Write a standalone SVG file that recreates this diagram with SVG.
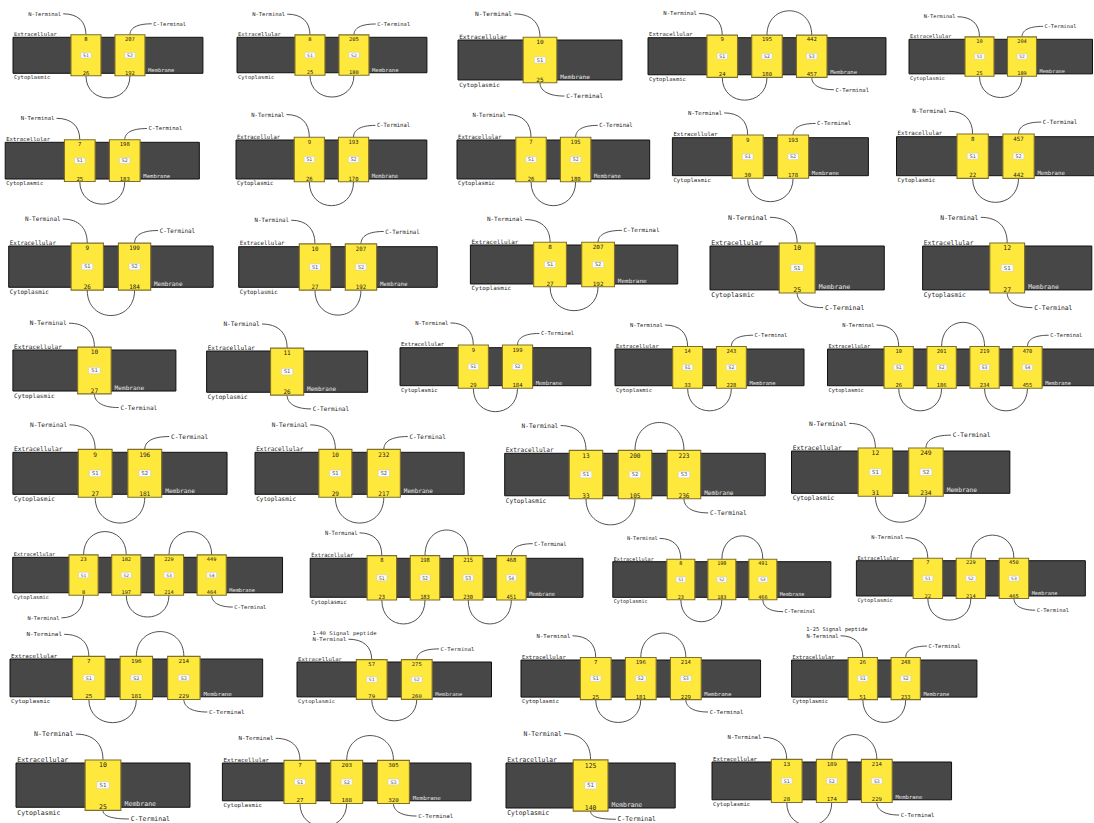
<svg xmlns="http://www.w3.org/2000/svg" width="1094" height="823" viewBox="0 0 1094 823">
<style>
.m{fill:#474747;stroke:#111;stroke-width:1;vector-effect:non-scaling-stroke}
.h{fill:#ffe83c;stroke:#7f6f2c;stroke-width:1.1;vector-effect:non-scaling-stroke}
.sb{fill:#fbfbfb;stroke:#bdbdbd;stroke-width:0.4;vector-effect:non-scaling-stroke}
text{font-family:"DejaVu Sans Mono","Liberation Mono",monospace;font-size:5.3px;fill:#1c1c1c}
.n{text-anchor:middle}
.e{text-anchor:end}
.sl{font-size:4.6px;fill:#555}
.w{fill:#e4e4e4}
.c path{fill:none;stroke:#3c3c3c;stroke-width:0.9;vector-effect:non-scaling-stroke}
</style>
<defs>
<g id="b1"><rect class="m" width="141" height="36"/><rect class="h" x="56" y="-2.5" width="29" height="41"/><rect class="sb" x="65.5" y="15.2" width="10" height="5.6"/><text class="n sl" x="70.5" y="19.6">S1</text><text x="1" y="-1.2">Extracellular</text><text x="1" y="42">Cytoplasmic</text><text class="w" x="88" y="35">Membrane</text></g>
<g id="b2"><rect class="m" width="183.5" height="36"/><rect class="h" x="56" y="-2.5" width="29" height="41"/><rect class="h" x="98.5" y="-2.5" width="29" height="41"/><rect class="sb" x="65.5" y="15.2" width="10" height="5.6"/><rect class="sb" x="108" y="15.2" width="10" height="5.6"/><text class="n sl" x="70.5" y="19.6">S1</text><text class="n sl" x="113" y="19.6">S2</text><text x="1" y="-1.2">Extracellular</text><text x="1" y="42">Cytoplasmic</text><text class="w" x="130.5" y="35">Membrane</text></g>
<g id="b3"><rect class="m" width="226" height="36"/><rect class="h" x="56" y="-2.5" width="29" height="41"/><rect class="h" x="98.5" y="-2.5" width="29" height="41"/><rect class="h" x="141" y="-2.5" width="29" height="41"/><rect class="sb" x="65.5" y="15.2" width="10" height="5.6"/><rect class="sb" x="108" y="15.2" width="10" height="5.6"/><rect class="sb" x="150.5" y="15.2" width="10" height="5.6"/><text class="n sl" x="70.5" y="19.6">S1</text><text class="n sl" x="113" y="19.6">S2</text><text class="n sl" x="155.5" y="19.6">S3</text><text x="1" y="-1.2">Extracellular</text><text x="1" y="42">Cytoplasmic</text><text class="w" x="173" y="35">Membrane</text></g>
<g id="b4"><rect class="m" width="268.5" height="36"/><rect class="h" x="56" y="-2.5" width="29" height="41"/><rect class="h" x="98.5" y="-2.5" width="29" height="41"/><rect class="h" x="141" y="-2.5" width="29" height="41"/><rect class="h" x="183.5" y="-2.5" width="29" height="41"/><rect class="sb" x="65.5" y="15.2" width="10" height="5.6"/><rect class="sb" x="108" y="15.2" width="10" height="5.6"/><rect class="sb" x="150.5" y="15.2" width="10" height="5.6"/><rect class="sb" x="193" y="15.2" width="10" height="5.6"/><text class="n sl" x="70.5" y="19.6">S1</text><text class="n sl" x="113" y="19.6">S2</text><text class="n sl" x="155.5" y="19.6">S3</text><text class="n sl" x="198" y="19.6">S4</text><text x="1" y="-1.2">Extracellular</text><text x="1" y="42">Cytoplasmic</text><text class="w" x="215.5" y="35">Membrane</text></g>
</defs>
<rect width="1094" height="823" fill="#fff"/>
<g id="connectors" class="c">
<g transform="translate(13,37.3) scale(1.035,1)"><path d="M48.5-23.5C62.5-23.5 70.5-16 70.5-2.5"/><path d="M70.5 38.5C70.5 68 113 68 113 38.5"/><path d="M113-2.5C113-9 119-13.5 134-13.5"/></g>
<g transform="translate(237,37.3) scale(1.035,0.985)"><path d="M48.5-23.5C62.5-23.5 70.5-16 70.5-2.5"/><path d="M70.5 38.5C70.5 68 113 68 113 38.5"/><path d="M113-2.5C113-9 119-13.5 134-13.5"/></g>
<g transform="translate(458,40) scale(1.163,1.11)"><path d="M48.5-23.5C62.5-23.5 70.5-16 70.5-2.5"/><path d="M70.5 38.5C70.5 45 76.5 50.5 91.5 50.5"/></g>
<g transform="translate(648,37.7) scale(1.053,1.03)"><path d="M48.5-23.5C62.5-23.5 70.5-16 70.5-2.5"/><path d="M70.5 38.5C70.5 68 113 68 113 38.5"/><path d="M113-2.5C113-34 155.5-34 155.5-2.5"/><path d="M155.5 38.5C155.5 45 161.5 50.5 176.5 50.5"/></g>
<g transform="translate(909,39.3) scale(1,0.96)"><path d="M48.5-23.5C62.5-23.5 70.5-16 70.5-2.5"/><path d="M70.5 38.5C70.5 68 113 68 113 38.5"/><path d="M113-2.5C113-9 119-13.5 134-13.5"/></g>
<g transform="translate(5.2,142.3) scale(1.058,1.02)"><path d="M48.5-23.5C62.5-23.5 70.5-16 70.5-2.5"/><path d="M70.5 38.5C70.5 68 113 68 113 38.5"/><path d="M113-2.5C113-9 119-13.5 134-13.5"/></g>
<g transform="translate(236,140) scale(1.04,1.083)"><path d="M48.5-23.5C62.5-23.5 70.5-16 70.5-2.5"/><path d="M70.5 38.5C70.5 68 113 68 113 38.5"/><path d="M113-2.5C113-9 119-13.5 134-13.5"/></g>
<g transform="translate(457,140) scale(1.05,1.083)"><path d="M48.5-23.5C62.5-23.5 70.5-16 70.5-2.5"/><path d="M70.5 38.5C70.5 68 113 68 113 38.5"/><path d="M113-2.5C113-9 119-13.5 134-13.5"/></g>
<g transform="translate(672.4,137.7) scale(1.068,1.055)"><path d="M48.5-23.5C62.5-23.5 70.5-16 70.5-2.5"/><path d="M70.5 38.5C70.5 68 113 68 113 38.5"/><path d="M113-2.5C113-9 119-13.5 134-13.5"/></g>
<g transform="translate(896.5,136.7) scale(1.08,1.083)"><path d="M48.5-23.5C62.5-23.5 70.5-16 70.5-2.5"/><path d="M70.5 38.5C70.5 68 113 68 113 38.5"/><path d="M113-2.5C113-9 119-13.5 134-13.5"/></g>
<g transform="translate(8.7,246) scale(1.114,1.147)"><path d="M48.5-23.5C62.5-23.5 70.5-16 70.5-2.5"/><path d="M70.5 38.5C70.5 68 113 68 113 38.5"/><path d="M113-2.5C113-9 119-13.5 134-13.5"/></g>
<g transform="translate(238.7,246.7) scale(1.082,1.128)"><path d="M48.5-23.5C62.5-23.5 70.5-16 70.5-2.5"/><path d="M70.5 38.5C70.5 68 113 68 113 38.5"/><path d="M113-2.5C113-9 119-13.5 134-13.5"/></g>
<g transform="translate(470.4,245) scale(1.13,1.083)"><path d="M48.5-23.5C62.5-23.5 70.5-16 70.5-2.5"/><path d="M70.5 38.5C70.5 68 113 68 113 38.5"/><path d="M113-2.5C113-9 119-13.5 134-13.5"/></g>
<g transform="translate(710,246) scale(1.236,1.22)"><path d="M48.5-23.5C62.5-23.5 70.5-16 70.5-2.5"/><path d="M70.5 38.5C70.5 45 76.5 50.5 91.5 50.5"/></g>
<g transform="translate(922.6,246) scale(1.2,1.22)"><path d="M48.5-23.5C62.5-23.5 70.5-16 70.5-2.5"/><path d="M70.5 38.5C70.5 45 76.5 50.5 91.5 50.5"/></g>
<g transform="translate(12.9,350) scale(1.156,1.14)"><path d="M48.5-23.5C62.5-23.5 70.5-16 70.5-2.5"/><path d="M70.5 38.5C70.5 45 76.5 50.5 91.5 50.5"/></g>
<g transform="translate(206.6,351) scale(1.142,1.147)"><path d="M48.5-23.5C62.5-23.5 70.5-16 70.5-2.5"/><path d="M70.5 38.5C70.5 45 76.5 50.5 91.5 50.5"/></g>
<g transform="translate(400,347.7) scale(1.04,1.055)"><path d="M48.5-23.5C62.5-23.5 70.5-16 70.5-2.5"/><path d="M70.5 38.5C70.5 68 113 68 113 38.5"/><path d="M113-2.5C113-9 119-13.5 134-13.5"/></g>
<g transform="translate(615,349) scale(1.03,1.02)"><path d="M48.5-23.5C62.5-23.5 70.5-16 70.5-2.5"/><path d="M70.5 38.5C70.5 68 113 68 113 38.5"/><path d="M113-2.5C113-9 119-13.5 134-13.5"/></g>
<g transform="translate(827.5,349) scale(1.01,1.02)"><path d="M48.5-23.5C62.5-23.5 70.5-16 70.5-2.5"/><path d="M70.5 38.5C70.5 68 113 68 113 38.5"/><path d="M113-2.5C113-34 155.5-34 155.5-2.5"/><path d="M155.5 38.5C155.5 68 198 68 198 38.5"/><path d="M198-2.5C198-9 204-13.5 219-13.5"/></g>
<g transform="translate(12.9,452.3) scale(1.167,1.167)"><path d="M48.5-23.5C62.5-23.5 70.5-16 70.5-2.5"/><path d="M70.5 38.5C70.5 68 113 68 113 38.5"/><path d="M113-2.5C113-9 119-13.5 134-13.5"/></g>
<g transform="translate(255,452.3) scale(1.14,1.167)"><path d="M48.5-23.5C62.5-23.5 70.5-16 70.5-2.5"/><path d="M70.5 38.5C70.5 68 113 68 113 38.5"/><path d="M113-2.5C113-9 119-13.5 134-13.5"/></g>
<g transform="translate(504.7,453.3) scale(1.153,1.18)"><path d="M48.5-23.5C62.5-23.5 70.5-16 70.5-2.5"/><path d="M70.5 38.5C70.5 68 113 68 113 38.5"/><path d="M113-2.5C113-34 155.5-34 155.5-2.5"/><path d="M155.5 38.5C155.5 45 161.5 50.5 176.5 50.5"/></g>
<g transform="translate(791.5,451) scale(1.19,1.175)"><path d="M48.5-23.5C62.5-23.5 70.5-16 70.5-2.5"/><path d="M70.5 38.5C70.5 68 113 68 113 38.5"/><path d="M113-2.5C113-9 119-13.5 134-13.5"/></g>
<g transform="translate(12.7,557.3) scale(1.005,0.985)"><path d="M70.5 38.5C70.5 52 62.5 61.5 48.5 61.5"/><path d="M70.5-2.5C70.5-34 113-34 113-2.5"/><path d="M113 38.5C113 68 155.5 68 155.5 38.5"/><path d="M155.5-2.5C155.5-34 198-34 198-2.5"/><path d="M198 38.5C198 45 204 50.5 219 50.5"/></g>
<g transform="translate(310.2,558.3) scale(1.016,1.083)"><path d="M48.5-23.5C62.5-23.5 70.5-16 70.5-2.5"/><path d="M70.5 38.5C70.5 68 113 68 113 38.5"/><path d="M113-2.5C113-34 155.5-34 155.5-2.5"/><path d="M155.5 38.5C155.5 68 198 68 198 38.5"/><path d="M198-2.5C198-9 204-13.5 219-13.5"/></g>
<g transform="translate(612.8,561.7) scale(0.965,0.99)"><path d="M48.5-23.5C62.5-23.5 70.5-16 70.5-2.5"/><path d="M70.5 38.5C70.5 68 113 68 113 38.5"/><path d="M113-2.5C113-34 155.5-34 155.5-2.5"/><path d="M155.5 38.5C155.5 45 161.5 50.5 176.5 50.5"/></g>
<g transform="translate(856.4,560.7) scale(1.013,0.98)"><path d="M48.5-23.5C62.5-23.5 70.5-16 70.5-2.5"/><path d="M70.5 38.5C70.5 68 113 68 113 38.5"/><path d="M113-2.5C113-34 155.5-34 155.5-2.5"/><path d="M155.5 38.5C155.5 45 161.5 50.5 176.5 50.5"/></g>
<g transform="translate(10,659) scale(1.118,1.05)"><path d="M48.5-23.5C62.5-23.5 70.5-16 70.5-2.5"/><path d="M70.5 38.5C70.5 68 113 68 113 38.5"/><path d="M113-2.5C113-34 155.5-34 155.5-2.5"/><path d="M155.5 38.5C155.5 45 161.5 50.5 176.5 50.5"/></g>
<g transform="translate(297,662) scale(1.06,0.97)"><path d="M48.5-23.5C62.5-23.5 70.5-16 70.5-2.5"/><path d="M70.5 38.5C70.5 68 113 68 113 38.5"/><path d="M113-2.5C113-9 119-13.5 134-13.5"/></g>
<g transform="translate(521,660) scale(1.06,1.03)"><path d="M48.5-23.5C62.5-23.5 70.5-16 70.5-2.5"/><path d="M70.5 38.5C70.5 68 113 68 113 38.5"/><path d="M113-2.5C113-34 155.5-34 155.5-2.5"/><path d="M155.5 38.5C155.5 45 161.5 50.5 176.5 50.5"/></g>
<g transform="translate(791.6,660) scale(1.01,1.03)"><path d="M48.5-23.5C62.5-23.5 70.5-16 70.5-2.5"/><path d="M70.5 38.5C70.5 68 113 68 113 38.5"/><path d="M113-2.5C113-9 119-13.5 134-13.5"/></g>
<g transform="translate(16,763) scale(1.234,1.23)"><path d="M48.5-23.5C62.5-23.5 70.5-16 70.5-2.5"/><path d="M70.5 38.5C70.5 42 74.5 45.5 91.5 45.5"/></g>
<g transform="translate(222.4,763) scale(1.1,1.05)"><path d="M48.5-23.5C62.5-23.5 70.5-16 70.5-2.5"/><path d="M70.5 38.5C70.5 68 113 68 113 38.5"/><path d="M113-2.5C113-34 155.5-34 155.5-2.5"/><path d="M155.5 38.5C155.5 45 161.5 50.5 176.5 50.5"/></g>
<g transform="translate(506,763) scale(1.2,1.25)"><path d="M48.5-23.5C62.5-23.5 70.5-16 70.5-2.5"/><path d="M70.5 38.5C70.5 42 74.5 45 91.5 45"/></g>
<g transform="translate(712,762) scale(1.06,1.05)"><path d="M48.5-23.5C62.5-23.5 70.5-16 70.5-2.5"/><path d="M70.5 38.5C70.5 68 113 68 113 38.5"/><path d="M113-2.5C113-34 155.5-34 155.5-2.5"/><path d="M155.5 38.5C155.5 45 161.5 50.5 176.5 50.5"/></g>
</g>
<g id="p1" transform="translate(13,37.3) scale(1.035,1)"><use href="#b2"/><text class="n" x="70.5" y="3.6">8</text><text class="n" x="113" y="3.6">207</text><text class="n" x="70.5" y="37.6">26</text><text class="n" x="113" y="37.6">192</text><text class="e" x="46.5" y="-21.7">N-Terminal</text><text x="135.5" y="-11.7">C-Terminal</text></g>
<g id="p2" transform="translate(237,37.3) scale(1.035,0.985)"><use href="#b2"/><text class="n" x="70.5" y="3.6">8</text><text class="n" x="113" y="3.6">205</text><text class="n" x="70.5" y="37.6">25</text><text class="n" x="113" y="37.6">180</text><text class="e" x="46.5" y="-21.7">N-Terminal</text><text x="135.5" y="-11.7">C-Terminal</text></g>
<g id="p3" transform="translate(458,40) scale(1.163,1.11)"><use href="#b1"/><text class="n" x="70.5" y="3.6">10</text><text class="n" x="70.5" y="37.6">25</text><text class="e" x="46.5" y="-21.7">N-Terminal</text><text x="93" y="52.3">C-Terminal</text></g>
<g id="p4" transform="translate(648,37.7) scale(1.053,1.03)"><use href="#b3"/><text class="n" x="70.5" y="3.6">9</text><text class="n" x="113" y="3.6">195</text><text class="n" x="155.5" y="3.6">442</text><text class="n" x="70.5" y="37.6">24</text><text class="n" x="113" y="37.6">180</text><text class="n" x="155.5" y="37.6">457</text><text class="e" x="46.5" y="-21.7">N-Terminal</text><text x="178" y="52.3">C-Terminal</text></g>
<g id="p5" transform="translate(909,39.3) scale(1,0.96)"><use href="#b2"/><text class="n" x="70.5" y="3.6">10</text><text class="n" x="113" y="3.6">204</text><text class="n" x="70.5" y="37.6">25</text><text class="n" x="113" y="37.6">189</text><text class="e" x="46.5" y="-21.7">N-Terminal</text><text x="135.5" y="-11.7">C-Terminal</text></g>
<g id="p6" transform="translate(5.2,142.3) scale(1.058,1.02)"><use href="#b2"/><text class="n" x="70.5" y="3.6">7</text><text class="n" x="113" y="3.6">198</text><text class="n" x="70.5" y="37.6">25</text><text class="n" x="113" y="37.6">183</text><text class="e" x="46.5" y="-21.7">N-Terminal</text><text x="135.5" y="-11.7">C-Terminal</text></g>
<g id="p7" transform="translate(236,140) scale(1.04,1.083)"><use href="#b2"/><text class="n" x="70.5" y="3.6">9</text><text class="n" x="113" y="3.6">193</text><text class="n" x="70.5" y="37.6">26</text><text class="n" x="113" y="37.6">170</text><text class="e" x="46.5" y="-21.7">N-Terminal</text><text x="135.5" y="-11.7">C-Terminal</text></g>
<g id="p8" transform="translate(457,140) scale(1.05,1.083)"><use href="#b2"/><text class="n" x="70.5" y="3.6">7</text><text class="n" x="113" y="3.6">195</text><text class="n" x="70.5" y="37.6">26</text><text class="n" x="113" y="37.6">180</text><text class="e" x="46.5" y="-21.7">N-Terminal</text><text x="135.5" y="-11.7">C-Terminal</text></g>
<g id="p9" transform="translate(672.4,137.7) scale(1.068,1.055)"><use href="#b2"/><text class="n" x="70.5" y="3.6">9</text><text class="n" x="113" y="3.6">193</text><text class="n" x="70.5" y="37.6">30</text><text class="n" x="113" y="37.6">178</text><text class="e" x="46.5" y="-21.7">N-Terminal</text><text x="135.5" y="-11.7">C-Terminal</text></g>
<g id="p10" transform="translate(896.5,136.7) scale(1.08,1.083)"><use href="#b2"/><text class="n" x="70.5" y="3.6">8</text><text class="n" x="113" y="3.6">457</text><text class="n" x="70.5" y="37.6">22</text><text class="n" x="113" y="37.6">442</text><text class="e" x="46.5" y="-21.7">N-Terminal</text><text x="135.5" y="-11.7">C-Terminal</text></g>
<g id="p11" transform="translate(8.7,246) scale(1.114,1.147)"><use href="#b2"/><text class="n" x="70.5" y="3.6">9</text><text class="n" x="113" y="3.6">199</text><text class="n" x="70.5" y="37.6">26</text><text class="n" x="113" y="37.6">184</text><text class="e" x="46.5" y="-21.7">N-Terminal</text><text x="135.5" y="-11.7">C-Terminal</text></g>
<g id="p12" transform="translate(238.7,246.7) scale(1.082,1.128)"><use href="#b2"/><text class="n" x="70.5" y="3.6">10</text><text class="n" x="113" y="3.6">207</text><text class="n" x="70.5" y="37.6">27</text><text class="n" x="113" y="37.6">192</text><text class="e" x="46.5" y="-21.7">N-Terminal</text><text x="135.5" y="-11.7">C-Terminal</text></g>
<g id="p13" transform="translate(470.4,245) scale(1.13,1.083)"><use href="#b2"/><text class="n" x="70.5" y="3.6">8</text><text class="n" x="113" y="3.6">207</text><text class="n" x="70.5" y="37.6">27</text><text class="n" x="113" y="37.6">192</text><text class="e" x="46.5" y="-21.7">N-Terminal</text><text x="135.5" y="-11.7">C-Terminal</text></g>
<g id="p14" transform="translate(710,246) scale(1.236,1.22)"><use href="#b1"/><text class="n" x="70.5" y="3.6">10</text><text class="n" x="70.5" y="37.6">25</text><text class="e" x="46.5" y="-21.7">N-Terminal</text><text x="93" y="52.3">C-Terminal</text></g>
<g id="p15" transform="translate(922.6,246) scale(1.2,1.22)"><use href="#b1"/><text class="n" x="70.5" y="3.6">12</text><text class="n" x="70.5" y="37.6">27</text><text class="e" x="46.5" y="-21.7">N-Terminal</text><text x="93" y="52.3">C-Terminal</text></g>
<g id="p16" transform="translate(12.9,350) scale(1.156,1.14)"><use href="#b1"/><text class="n" x="70.5" y="3.6">10</text><text class="n" x="70.5" y="37.6">27</text><text class="e" x="46.5" y="-21.7">N-Terminal</text><text x="93" y="52.3">C-Terminal</text></g>
<g id="p17" transform="translate(206.6,351) scale(1.142,1.147)"><use href="#b1"/><text class="n" x="70.5" y="3.6">11</text><text class="n" x="70.5" y="37.6">26</text><text class="e" x="46.5" y="-21.7">N-Terminal</text><text x="93" y="52.3">C-Terminal</text></g>
<g id="p18" transform="translate(400,347.7) scale(1.04,1.055)"><use href="#b2"/><text class="n" x="70.5" y="3.6">9</text><text class="n" x="113" y="3.6">199</text><text class="n" x="70.5" y="37.6">29</text><text class="n" x="113" y="37.6">184</text><text class="e" x="46.5" y="-21.7">N-Terminal</text><text x="135.5" y="-11.7">C-Terminal</text></g>
<g id="p19" transform="translate(615,349) scale(1.03,1.02)"><use href="#b2"/><text class="n" x="70.5" y="3.6">14</text><text class="n" x="113" y="3.6">243</text><text class="n" x="70.5" y="37.6">33</text><text class="n" x="113" y="37.6">228</text><text class="e" x="46.5" y="-21.7">N-Terminal</text><text x="135.5" y="-11.7">C-Terminal</text></g>
<g id="p20" transform="translate(827.5,349) scale(1.01,1.02)"><use href="#b4"/><text class="n" x="70.5" y="3.6">10</text><text class="n" x="113" y="3.6">201</text><text class="n" x="155.5" y="3.6">219</text><text class="n" x="198" y="3.6">470</text><text class="n" x="70.5" y="37.6">26</text><text class="n" x="113" y="37.6">186</text><text class="n" x="155.5" y="37.6">234</text><text class="n" x="198" y="37.6">455</text><text class="e" x="46.5" y="-21.7">N-Terminal</text><text x="220.5" y="-11.7">C-Terminal</text></g>
<g id="p21" transform="translate(12.9,452.3) scale(1.167,1.167)"><use href="#b2"/><text class="n" x="70.5" y="3.6">9</text><text class="n" x="113" y="3.6">196</text><text class="n" x="70.5" y="37.6">27</text><text class="n" x="113" y="37.6">181</text><text class="e" x="46.5" y="-21.7">N-Terminal</text><text x="135.5" y="-11.7">C-Terminal</text></g>
<g id="p22" transform="translate(255,452.3) scale(1.14,1.167)"><use href="#b2"/><text class="n" x="70.5" y="3.6">10</text><text class="n" x="113" y="3.6">232</text><text class="n" x="70.5" y="37.6">29</text><text class="n" x="113" y="37.6">217</text><text class="e" x="46.5" y="-21.7">N-Terminal</text><text x="135.5" y="-11.7">C-Terminal</text></g>
<g id="p23" transform="translate(504.7,453.3) scale(1.153,1.18)"><use href="#b3"/><text class="n" x="70.5" y="3.6">13</text><text class="n" x="113" y="3.6">200</text><text class="n" x="155.5" y="3.6">223</text><text class="n" x="70.5" y="37.6">33</text><text class="n" x="113" y="37.6">105</text><text class="n" x="155.5" y="37.6">236</text><text class="e" x="46.5" y="-21.7">N-Terminal</text><text x="178" y="52.3">C-Terminal</text></g>
<g id="p24" transform="translate(791.5,451) scale(1.19,1.175)"><use href="#b2"/><text class="n" x="70.5" y="3.6">12</text><text class="n" x="113" y="3.6">249</text><text class="n" x="70.5" y="37.6">31</text><text class="n" x="113" y="37.6">234</text><text class="e" x="46.5" y="-21.7">N-Terminal</text><text x="135.5" y="-11.7">C-Terminal</text></g>
<g id="p25" transform="translate(12.7,557.3) scale(1.005,0.985)"><use href="#b4"/><text class="n" x="70.5" y="3.6">23</text><text class="n" x="113" y="3.6">182</text><text class="n" x="155.5" y="3.6">229</text><text class="n" x="198" y="3.6">449</text><text class="n" x="70.5" y="37.6">8</text><text class="n" x="113" y="37.6">197</text><text class="n" x="155.5" y="37.6">214</text><text class="n" x="198" y="37.6">464</text><text class="e" x="46.5" y="63.3">N-Terminal</text><text x="220.5" y="52.3">C-Terminal</text></g>
<g id="p26" transform="translate(310.2,558.3) scale(1.016,1.083)"><use href="#b4"/><text class="n" x="70.5" y="3.6">8</text><text class="n" x="113" y="3.6">198</text><text class="n" x="155.5" y="3.6">215</text><text class="n" x="198" y="3.6">468</text><text class="n" x="70.5" y="37.6">23</text><text class="n" x="113" y="37.6">183</text><text class="n" x="155.5" y="37.6">230</text><text class="n" x="198" y="37.6">451</text><text class="e" x="46.5" y="-21.7">N-Terminal</text><text x="220.5" y="-11.7">C-Terminal</text></g>
<g id="p27" transform="translate(612.8,561.7) scale(0.965,0.99)"><use href="#b3"/><text class="n" x="70.5" y="3.6">8</text><text class="n" x="113" y="3.6">198</text><text class="n" x="155.5" y="3.6">491</text><text class="n" x="70.5" y="37.6">23</text><text class="n" x="113" y="37.6">183</text><text class="n" x="155.5" y="37.6">466</text><text class="e" x="46.5" y="-21.7">N-Terminal</text><text x="178" y="52.3">C-Terminal</text></g>
<g id="p28" transform="translate(856.4,560.7) scale(1.013,0.98)"><use href="#b3"/><text class="n" x="70.5" y="3.6">7</text><text class="n" x="113" y="3.6">229</text><text class="n" x="155.5" y="3.6">450</text><text class="n" x="70.5" y="37.6">22</text><text class="n" x="113" y="37.6">214</text><text class="n" x="155.5" y="37.6">465</text><text class="e" x="46.5" y="-21.7">N-Terminal</text><text x="178" y="52.3">C-Terminal</text></g>
<g id="p29" transform="translate(10,659) scale(1.118,1.05)"><use href="#b3"/><text class="n" x="70.5" y="3.6">7</text><text class="n" x="113" y="3.6">196</text><text class="n" x="155.5" y="3.6">214</text><text class="n" x="70.5" y="37.6">25</text><text class="n" x="113" y="37.6">181</text><text class="n" x="155.5" y="37.6">229</text><text class="e" x="46.5" y="-21.7">N-Terminal</text><text x="178" y="52.3">C-Terminal</text></g>
<g id="p30" transform="translate(297,662) scale(1.06,0.97)"><use href="#b2"/><text class="n" x="70.5" y="3.6">57</text><text class="n" x="113" y="3.6">275</text><text class="n" x="70.5" y="37.6">79</text><text class="n" x="113" y="37.6">260</text><text x="14.6" y="-28">1-40 Signal peptide</text><text class="e" x="46.5" y="-21.7">N-Terminal</text><text x="135.5" y="-11.7">C-Terminal</text></g>
<g id="p31" transform="translate(521,660) scale(1.06,1.03)"><use href="#b3"/><text class="n" x="70.5" y="3.6">7</text><text class="n" x="113" y="3.6">196</text><text class="n" x="155.5" y="3.6">214</text><text class="n" x="70.5" y="37.6">25</text><text class="n" x="113" y="37.6">181</text><text class="n" x="155.5" y="37.6">229</text><text class="e" x="46.5" y="-21.7">N-Terminal</text><text x="178" y="52.3">C-Terminal</text></g>
<g id="p32" transform="translate(791.6,660) scale(1.01,1.03)"><use href="#b2"/><text class="n" x="70.5" y="3.6">26</text><text class="n" x="113" y="3.6">248</text><text class="n" x="70.5" y="37.6">51</text><text class="n" x="113" y="37.6">233</text><text x="14.6" y="-28">1-25 Signal peptide</text><text class="e" x="46.5" y="-21.7">N-Terminal</text><text x="135.5" y="-11.7">C-Terminal</text></g>
<g id="p33" transform="translate(16,763) scale(1.234,1.23)"><use href="#b1"/><text class="n" x="70.5" y="3.6">10</text><text class="n" x="70.5" y="37.6">25</text><text class="e" x="46.5" y="-21.7">N-Terminal</text><text x="93" y="47">C-Terminal</text></g>
<g id="p34" transform="translate(222.4,763) scale(1.1,1.05)"><use href="#b3"/><text class="n" x="70.5" y="3.6">7</text><text class="n" x="113" y="3.6">203</text><text class="n" x="155.5" y="3.6">305</text><text class="n" x="70.5" y="37.6">27</text><text class="n" x="113" y="37.6">188</text><text class="n" x="155.5" y="37.6">320</text><text class="e" x="46.5" y="-21.7">N-Terminal</text><text x="178" y="52.3">C-Terminal</text></g>
<g id="p35" transform="translate(506,763) scale(1.2,1.25)"><use href="#b1"/><text class="n" x="70.5" y="3.6">125</text><text class="n" x="70.5" y="37.6">140</text><text class="e" x="46.5" y="-21.7">N-Terminal</text><text x="93" y="46.6">C-Terminal</text></g>
<g id="p36" transform="translate(712,762) scale(1.06,1.05)"><use href="#b3"/><text class="n" x="70.5" y="3.6">13</text><text class="n" x="113" y="3.6">189</text><text class="n" x="155.5" y="3.6">214</text><text class="n" x="70.5" y="37.6">28</text><text class="n" x="113" y="37.6">174</text><text class="n" x="155.5" y="37.6">229</text><text class="e" x="46.5" y="-21.7">N-Terminal</text><text x="178" y="52.3">C-Terminal</text></g>
</svg>
